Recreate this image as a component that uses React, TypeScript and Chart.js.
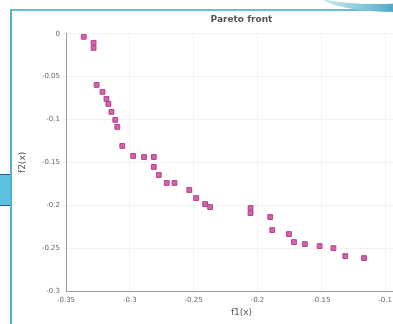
import React, { useEffect, useRef } from "react";
import { Chart, registerables } from "chart.js";

Chart.register(...registerables);

const f1Values = [
  -0.3361, -0.3284, -0.3284, -0.326, -0.3214, -0.3183, -0.3168, -0.3144, -0.3114, -0.3098,
  -0.3059, -0.2974, -0.2889, -0.2812, -0.2812, -0.2773, -0.2711, -0.265, -0.2534, -0.248,
  -0.241, -0.2371, -0.2054, -0.2054, -0.19, -0.1884, -0.1753, -0.1714, -0.1629, -0.1513,
  -0.1405, -0.1312, -0.1165,
];
const f2Values = [
  -0.0035, -0.0105, -0.0164, -0.0596, -0.0677, -0.0759, -0.0818, -0.0911, -0.1004, -0.1086,
  -0.1308, -0.1425, -0.1437, -0.1437, -0.1553, -0.1647, -0.174, -0.174, -0.1822, -0.1916,
  -0.1986, -0.2021, -0.2032, -0.2091, -0.2137, -0.2289, -0.2336, -0.2429, -0.2453, -0.2476,
  -0.25, -0.2593, -0.2616,
];
const xTickValues = [-0.35, -0.3, -0.25, -0.2, -0.15, -0.1];
const yTickValues = [0, -0.05, -0.1, -0.15, -0.2, -0.25, -0.3];
const titleText = "Pareto front";
const xLabel = "f1(x)";
const yLabel = "f2(x)";
const xMin = -0.35;
const xMax = -0.075;
const yMin = -0.3;
const yMax = 0;

const fmt = (v: number) => String(Number(Number(v).toFixed(3)));

export default function App() {
  const canvasRef = useRef<HTMLCanvasElement | null>(null);

  useEffect(() => {
    const ctx = canvasRef.current;
    if (!ctx) return;
    const points = f1Values.map((x, i) => ({ x, y: f2Values[i] }));
    const tickFont = { family: "DejaVu Sans", size: 7 };
    const titleFont = { family: "DejaVu Sans", size: 9 };
    const chart = new Chart(ctx, {
      type: "scatter",
      data: {
        datasets: [
          {
            label: "Pareto front",
            data: points,
            pointStyle: "rect",
            pointRadius: 3.4,
            backgroundColor: "#d065a8",
            borderColor: "#b8408f",
            borderWidth: 1,
          },
        ],
      },
      options: {
        animation: false,
        responsive: false,
        maintainAspectRatio: false,
        layout: { padding: { left: 17, right: 0, top: 0, bottom: 6 } },
        plugins: {
          legend: { display: false },
          tooltip: { enabled: false },
          title: {
            display: true,
            text: titleText,
            fullSize: false,
            color: "#555",
            font: titleFont,
            padding: { top: 14, bottom: 9 },
          },
        },
        scales: {
          x: {
            type: "linear",
            min: xMin,
            max: xMax,
            afterBuildTicks: (scale: any) => {
              scale.ticks = xTickValues.map((v) => ({ value: v }));
            },
            afterFit: (scale: any) => {
              scale.height = 27;
            },
            ticks: {
              color: "#666",
              font: tickFont,
              padding: 2,
              maxRotation: 0,
              autoSkip: false,
              callback: (v: any) => fmt(v),
            },
            grid: { color: "rgba(0,0,0,0.05)", tickLength: 3 },
            border: { color: "#999", width: 1 },
            title: { display: true, text: xLabel, color: "#555", font: titleFont, padding: 0 },
          },
          y: {
            type: "linear",
            min: yMin,
            max: yMax,
            afterBuildTicks: (scale: any) => {
              scale.ticks = yTickValues.map((v) => ({ value: v }));
            },
            afterFit: (scale: any) => {
              scale.width = 49;
            },
            ticks: {
              color: "#666",
              font: tickFont,
              padding: 3,
              autoSkip: false,
              callback: (v: any) => fmt(v),
            },
            grid: { color: "rgba(0,0,0,0.05)", tickLength: 3 },
            border: { color: "#999", width: 1 },
            title: { display: true, text: yLabel, color: "#555", font: titleFont, padding: 0 },
          },
        },
      },
    });
    return () => chart.destroy();
  }, []);

  return (
    <div
      style={{
        position: "fixed",
        left: 0,
        top: 0,
        width: 393,
        height: 324,
        overflow: "hidden",
        background: "#fff",
      }}
    >
      <canvas
        ref={canvasRef}
        width={422}
        height={324}
        style={{ position: "absolute", left: 0, top: 0, width: 422, height: 324 }}
      />
      <div style={{ position: "absolute", left: 11, top: 9, width: 382, height: 2, background: "#6bbccf" }} />
      <div style={{ position: "absolute", left: 10, top: 9, width: 2, height: 315, background: "#4fb3cf" }} />
      <div
        style={{
          position: "absolute",
          left: 0,
          top: 174,
          width: 10,
          height: 30,
          background: "#5bc3df",
          borderTop: "1px solid #2f5f9a",
          borderBottom: "1px solid #2f5f9a",
        }}
      />
      <div
        style={{
          position: "absolute",
          left: 318,
          top: -24,
          width: 160,
          height: 36,
          borderRadius: "50%",
          background: "linear-gradient(to right, #d6eef5, #3a9fc0 55%, #1f4f8a)",
        }}
      />
      <div
        style={{
          position: "absolute",
          left: 300,
          top: -30,
          width: 150,
          height: 34,
          borderRadius: "50%",
          background: "#fff",
        }}
      />
    </div>
  );
}
